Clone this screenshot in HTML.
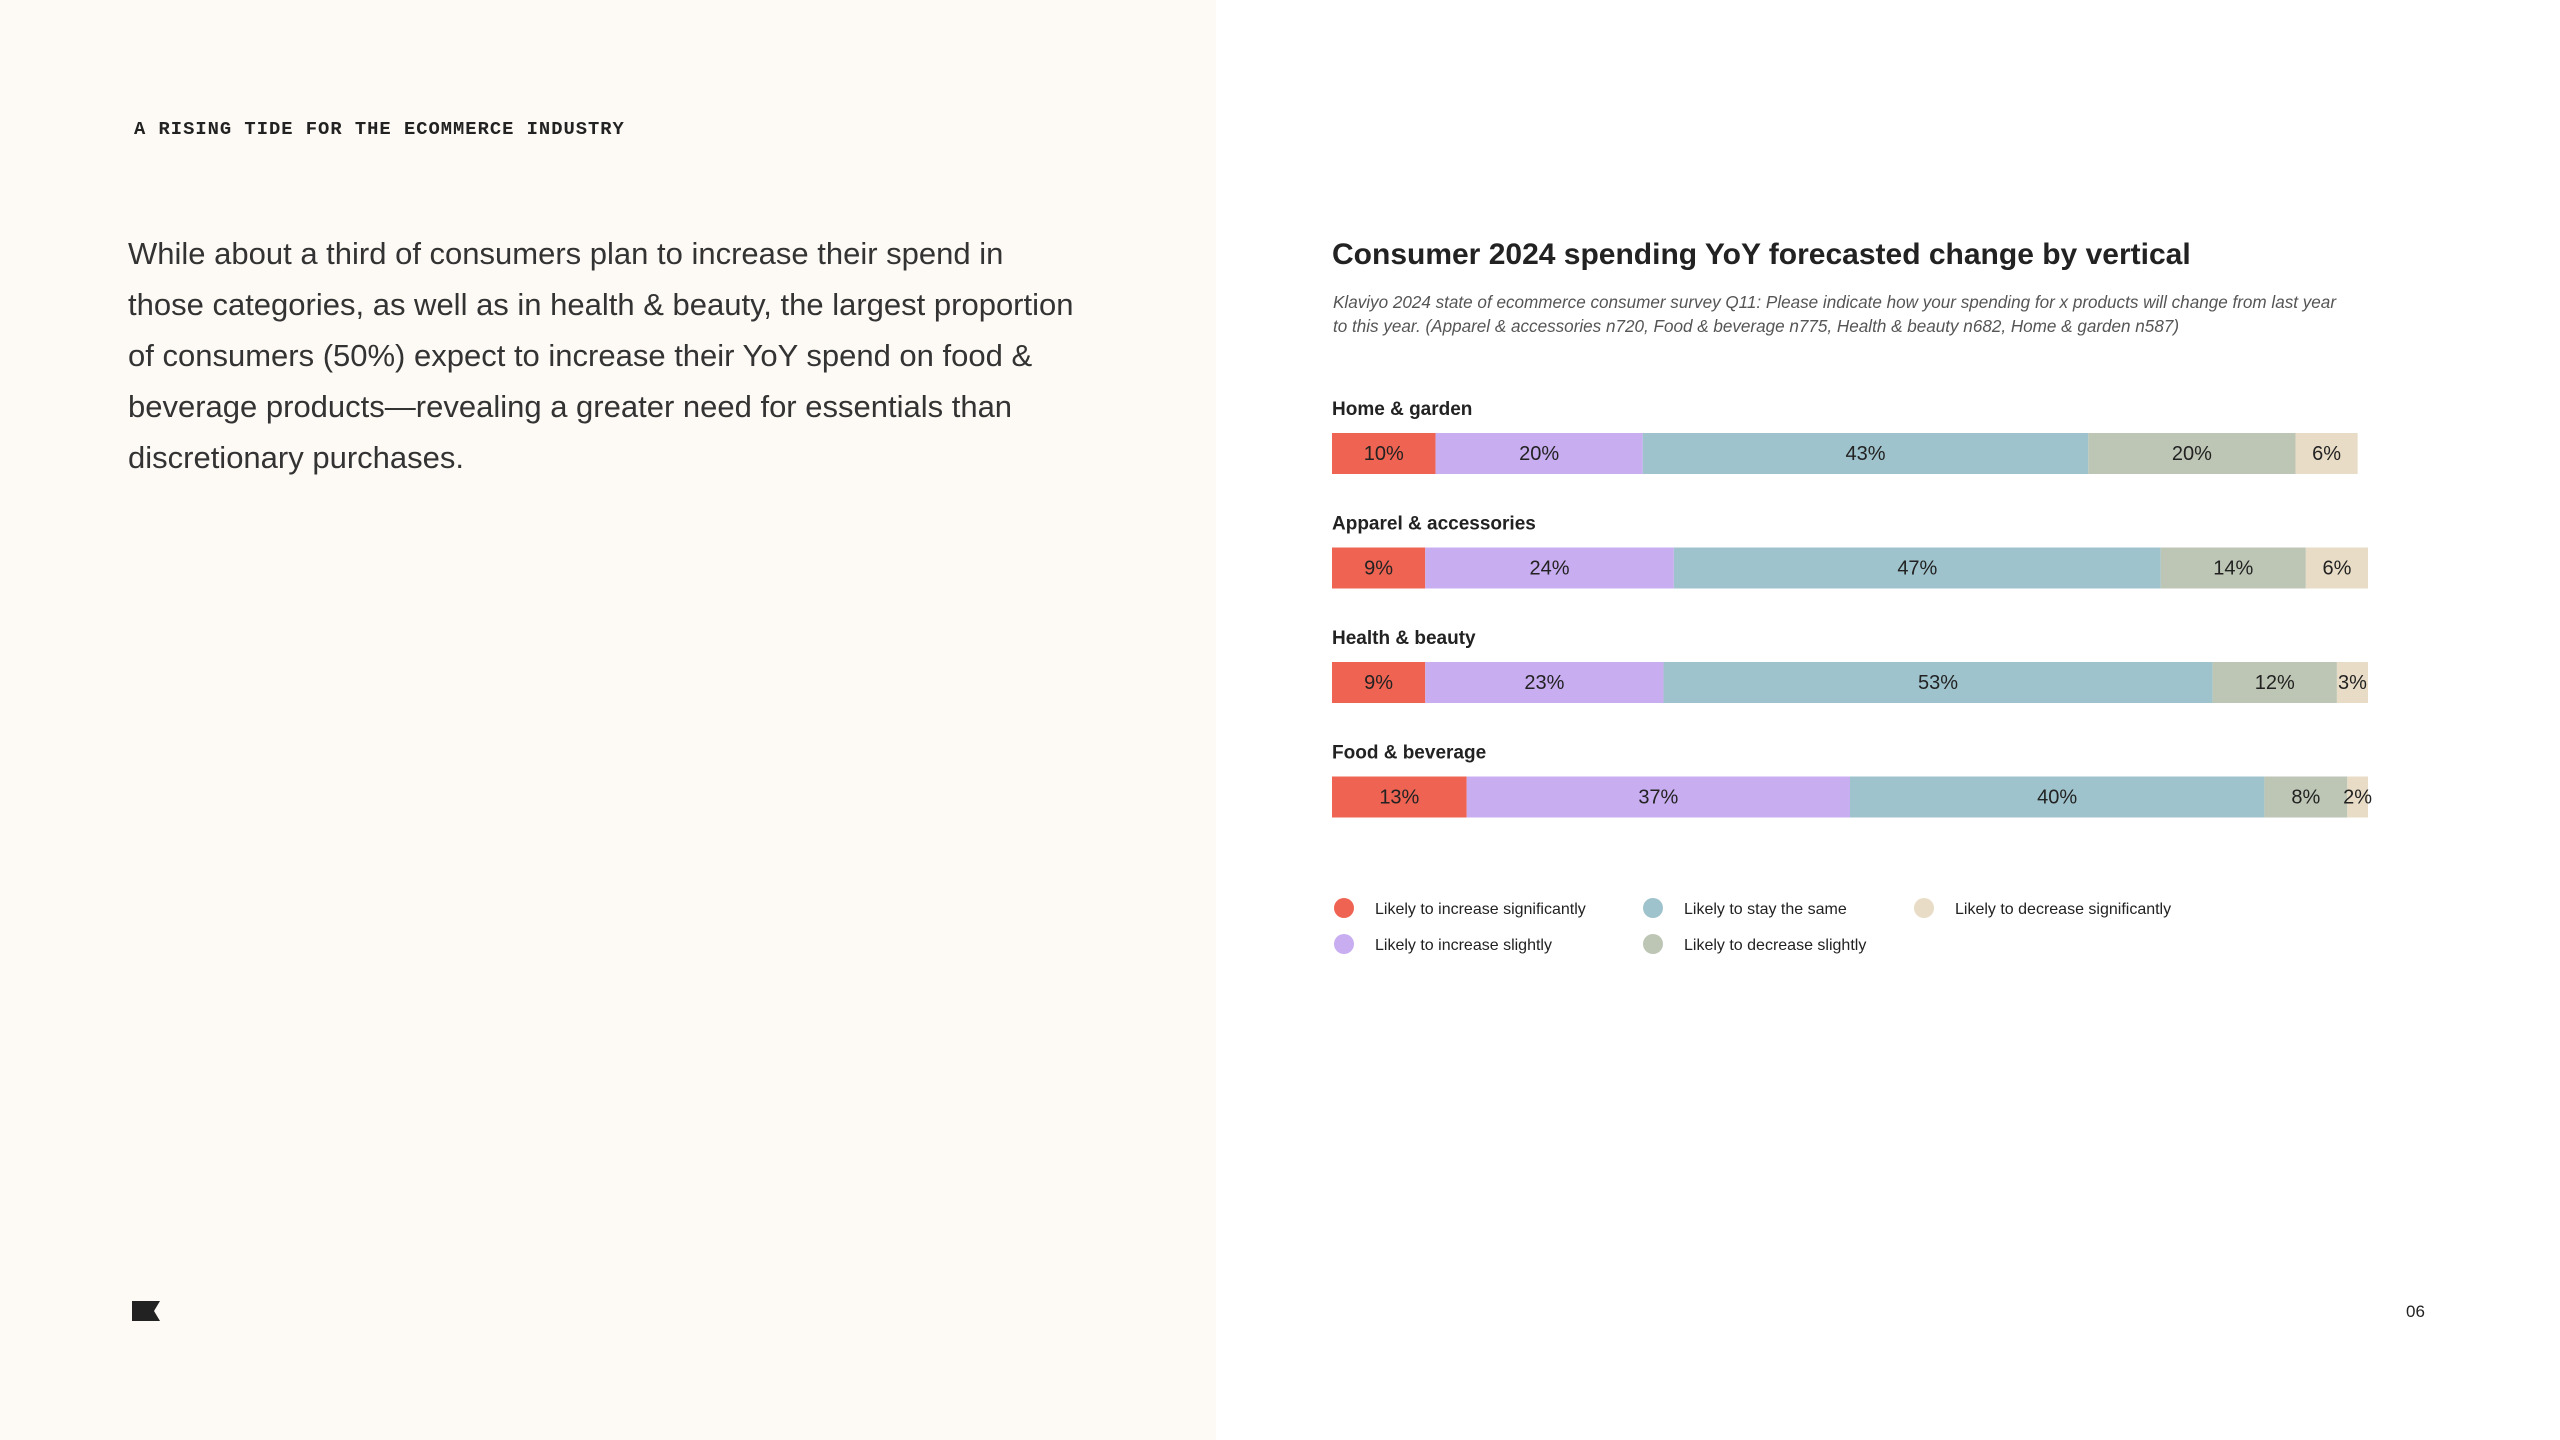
<!DOCTYPE html>
<html><head><meta charset="utf-8"><style>
body{margin:0;width:2560px;height:1440px;position:relative;background:#fff;font-family:"Liberation Sans",sans-serif;color:#222;overflow:hidden}
#left{position:absolute;left:0;top:0;width:1216px;height:1440px;background:#fdf9f4}
.abs{position:absolute;white-space:nowrap}
</style></head><body>
<div id="left"></div>
<div class="abs" style="left:134px;top:118px;font-family:'Liberation Mono',monospace;font-weight:bold;font-size:18.8px;letter-spacing:1px">A RISING TIDE FOR THE ECOMMERCE INDUSTRY</div>
<div class="abs" style="left:128px;top:228px;font-size:31px;line-height:51px;color:#333;white-space:normal;width:1000px">While about a third of consumers plan to increase their spend in<br>those categories, as well as in health &amp; beauty, the largest proportion<br>of consumers (50%) expect to increase their YoY spend on food &amp;<br>beverage products—revealing a greater need for essentials than<br>discretionary purchases.</div>
<svg class="abs" style="left:132px;top:1301px" width="30" height="20"><path d="M0 0H28L22 10L28 20H0Z" fill="#222"/></svg>
<div class="abs" style="left:2406px;top:1302px;font-size:17px">06</div>
<div class="abs" style="left:1332px;top:238px;font-size:30px;font-weight:bold">Consumer 2024 spending YoY forecasted change by vertical</div>
<div class="abs" style="left:1333px;top:291px;font-size:17.1px;font-style:italic;color:#555;line-height:24px">Klaviyo 2024 state of ecommerce consumer survey Q11: Please indicate how your spending for x products will change from last year<br>to this year. (Apparel &amp; accessories n720, Food &amp; beverage n775, Health &amp; beauty n682, Home &amp; garden n587)</div>
<svg id="chart" class="abs" style="left:0;top:0" width="2560" height="1440"></svg>
<script>
const categories=["Home & garden","Apparel & accessories","Health & beauty","Food & beverage"];
const seriesNames=["Likely to increase significantly","Likely to increase slightly","Likely to stay the same","Likely to decrease slightly","Likely to decrease significantly"];
const incSig=[10,9,9,13];
const incSlight=[20,24,23,37];
const same=[43,47,53,40];
const decSlight=[20,14,12,8];
const decSig=[6,6,3,2];
const colors=["#ee6352","#c8aef0","#9fc3cc","#bdc6b5","#e8dcc6"];
const series=[incSig,incSlight,same,decSlight,decSig];
const NS="http://www.w3.org/2000/svg";
const svg=document.getElementById('chart');
const x0=1332,pxPer=10.36;
const xs=v=>v*pxPer;
const yBar=i=>433+i*114.5;
const barH=41;
function mk(t,a){const e=document.createElementNS(NS,t);for(const k in a)e.setAttribute(k,a[k]);svg.appendChild(e);return e;}
categories.forEach((c,i)=>{
  const lab=mk('text',{x:x0,y:yBar(i)-18,'font-size':19,'font-weight':'bold','font-family':'Liberation Sans, sans-serif',fill:'#222'});
  lab.textContent=c;
  
  
  let cum=0;
  series.forEach((s,j)=>{
    const v=s[i];
    const r=mk('rect',{x:x0+xs(cum),y:yBar(i),width:xs(v),height:barH,fill:colors[j]});
    
    
    const t=mk('text',{x:x0+xs(cum+v/2),y:yBar(i)+27,'font-size':20,'text-anchor':'middle','font-family':'Liberation Sans, sans-serif',fill:'#222'});
    t.textContent=v+'%';
    
    
    cum+=v;
  });
});
const legX=[1344,1344,1653,1653,1924],legY=[908,944,908,944,908];
seriesNames.forEach((n,j)=>{
  const c=mk('circle',{cx:legX[j],cy:legY[j],r:10,fill:colors[j]});
  
  
  const t=mk('text',{x:legX[j]+31,y:legY[j]+6,'font-size':16,'font-family':'Liberation Sans, sans-serif',fill:'#222'});
  t.textContent=n;
  
  
});
</script>
</body></html>
